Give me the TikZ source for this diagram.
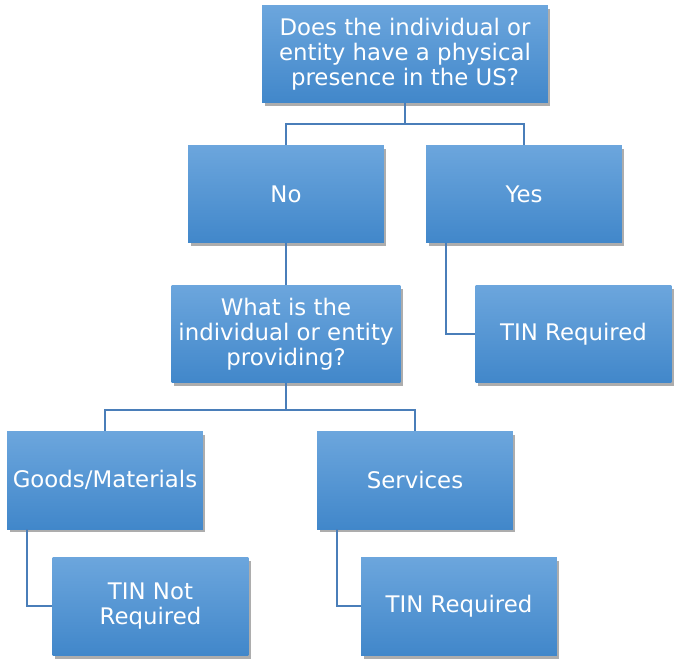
\documentclass[tikz,border=0pt]{standalone}
\usepackage{fontspec}
\setmainfont{DejaVu Sans}
\usetikzlibrary{shadows}

\definecolor{boxtop}{HTML}{6CA6DD}
\definecolor{boxbot}{HTML}{4187CA}
\definecolor{linkblue}{HTML}{4A7EB9}

\tikzset{
  box/.style={rectangle, top color=boxtop, bottom color=boxbot, draw=none,
    minimum width=3.92cm, minimum height=1.96cm, inner sep=2pt, align=center,
    text=white, font=\fontsize{13}{14.2}\selectfont,
    drop shadow={shadow xshift=0.05cm, shadow yshift=-0.07cm, opacity=0.4, fill=black!80}},
  link/.style={draw=linkblue, line width=1.1pt}
}

\begin{document}
\begin{tikzpicture}[x=0.02cm, y=-0.02cm]
				\useasboundingbox (0,0) rectangle (680,667);
				
				\node[box, minimum width=5.72cm] (presence) at (405,54) {Does the individual or\\entity have a physical\\presence in the US?};
				
				\node[box] (no) at (286,194) {No};
				\node[box] (yes) at (524,194) {Yes};
				
				\node[box, minimum width=4.58cm] (providing) at (286,334) {What is the\\individual or entity\\providing?};
				\node[box] (tinyes) at (573.5,334) {TIN Required};
				
				\node[box] (goods) at (105,480) {Goods/Materials};
				\node[box] (services) at (415,480) {Services};
				
				\node[box] (tinnot) at (150.5,606) {TIN Not\\Required};
				\node[box] (tinserv) at (459,606) {TIN Required};
				
				\draw[link] (presence.south) -- ++(0,21) -| (no.north);
				\draw[link] (presence.south) -- ++(0,21) -| (yes.north);
				\draw[link] (no.south) -- (providing.north);
				\draw[link] ([xshift=0.4cm]yes.south west) |- (tinyes.west);
				
				\draw[link] (providing.south) -- ++(0,27) -| (goods.north);
				\draw[link] (providing.south) -- ++(0,27) -| (services.north);
				\draw[link] ([xshift=0.4cm]goods.south west) |- (tinnot.west);
				\draw[link] ([xshift=0.4cm]services.south west) |- (tinserv.west);
			\end{tikzpicture}
\end{document}
